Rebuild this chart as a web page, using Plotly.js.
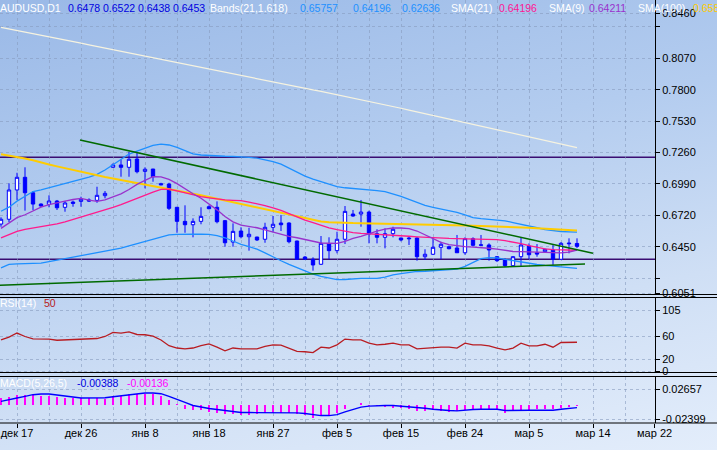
<!DOCTYPE html>
<html><head><meta charset="utf-8">
<script src="https://cdn.plot.ly/plotly-3.0.1.min.js"></script>
<style>
html,body{margin:0;padding:0;background:#dfe9f8;}
#chart{width:717px;height:450px;background:linear-gradient(168deg,#9ab9e7 0%,#b3ccef 38%,#cfdff5 70%,#e3edfb 100%);}
</style></head><body><div id="chart"></div>
<script>
// ---------- data ----------
const openP  = [0.6645,0.6686,0.6938,0.7047,0.6914,0.6817,0.6815,0.6843,0.6789,0.6834,0.6840,0.6852,0.6849,0.6889,0.7133,0.7153,0.7133,0.7204,0.7098,0.7118,0.6992,0.6989,0.6789,0.6668,0.6639,0.6668,0.6794,0.6789,0.6674,0.6490,0.6585,0.6536,0.6533,0.6514,0.6617,0.6654,0.6654,0.6499,0.6361,0.6342,0.6299,0.6473,0.6416,0.6514,0.6731,0.6731,0.6748,0.6562,0.6531,0.6562,0.6525,0.6525,0.6525,0.6364,0.6385,0.6445,0.6450,0.6439,0.6398,0.6519,0.6466,0.6465,0.6364,0.6336,0.6287,0.6364,0.6456,0.6398,0.6407,0.6422,0.6342,0.6482,0.6478];
const highP  = [0.6703,0.6995,0.7086,0.7133,0.6929,0.6823,0.6892,0.6852,0.6843,0.6846,0.6880,0.6866,0.6966,0.6929,0.7167,0.7202,0.7267,0.7267,0.7133,0.7120,0.7000,0.7000,0.6792,0.6806,0.6694,0.6789,0.6806,0.6840,0.6680,0.6651,0.6617,0.6613,0.6536,0.6656,0.6714,0.6723,0.6660,0.6502,0.6370,0.6359,0.6542,0.6531,0.6579,0.6800,0.6766,0.6852,0.6760,0.6600,0.6608,0.6622,0.6528,0.6542,0.6531,0.6428,0.6522,0.6493,0.6459,0.6551,0.6531,0.6531,0.6551,0.6479,0.6370,0.6350,0.6370,0.6528,0.6479,0.6473,0.6433,0.6465,0.6490,0.6522,0.6522];
const lowP   = [0.6622,0.6662,0.6852,0.6760,0.6766,0.6794,0.6789,0.6766,0.6751,0.6794,0.6794,0.6837,0.6828,0.6866,0.7130,0.7052,0.7052,0.7081,0.6952,0.7009,0.6978,0.6766,0.6570,0.6570,0.6531,0.6643,0.6772,0.6651,0.6450,0.6450,0.6522,0.6416,0.6499,0.6484,0.6574,0.6585,0.6479,0.6336,0.6336,0.6244,0.6293,0.6342,0.6393,0.6473,0.6708,0.6622,0.6479,0.6479,0.6436,0.6531,0.6496,0.6465,0.6330,0.6336,0.6379,0.6342,0.6427,0.6398,0.6381,0.6450,0.6459,0.6330,0.6318,0.6275,0.6284,0.6284,0.6342,0.6364,0.6402,0.6293,0.6342,0.6393,0.6438];
const closeP = [0.6686,0.6938,0.7047,0.6914,0.6817,0.6800,0.6843,0.6785,0.6826,0.6823,0.6858,0.6843,0.6892,0.6909,0.7153,0.7133,0.7202,0.7095,0.7116,0.7052,0.6983,0.6780,0.6668,0.6639,0.6668,0.6711,0.6777,0.6665,0.6484,0.6582,0.6536,0.6557,0.6508,0.6617,0.6643,0.6639,0.6493,0.6342,0.6344,0.6293,0.6479,0.6416,0.6514,0.6754,0.6714,0.6748,0.6559,0.6531,0.6562,0.6600,0.6508,0.6519,0.6364,0.6385,0.6445,0.6471,0.6433,0.6398,0.6519,0.6462,0.6463,0.6422,0.6330,0.6287,0.6364,0.6465,0.6381,0.6387,0.6428,0.6342,0.6479,0.6476,0.6453];

const bandUpper = [0.6755,0.6790,0.6842,0.6886,0.6925,0.6939,0.6957,0.6975,0.6991,0.7008,0.7026,0.7049,0.7073,0.7110,0.7155,0.7202,0.7247,0.7273,0.7299,0.7321,0.7333,0.7325,0.7305,0.7275,0.7248,0.7239,0.7234,0.7232,0.7228,0.7226,0.7224,0.7218,0.7212,0.7200,0.7182,0.7161,0.7126,0.7089,0.7057,0.7031,0.7008,0.6987,0.6967,0.6957,0.6952,0.6947,0.6940,0.6932,0.6923,0.6905,0.6883,0.6858,0.6831,0.6805,0.6789,0.6775,0.6760,0.6745,0.6724,0.6701,0.6692,0.6687,0.6683,0.6673,0.6658,0.6641,0.6624,0.6613,0.6597,0.6588,0.6581,0.6578,0.65757];
const bandLower = [0.6268,0.6298,0.6302,0.6304,0.6306,0.6309,0.6321,0.6334,0.6347,0.6363,0.6373,0.6386,0.6399,0.6412,0.6425,0.6438,0.6458,0.6478,0.6498,0.6518,0.6537,0.6552,0.6556,0.6559,0.6558,0.6557,0.6556,0.6545,0.6527,0.6499,0.6471,0.6450,0.6429,0.6397,0.6361,0.6329,0.6298,0.6269,0.6241,0.6214,0.6194,0.6179,0.6167,0.6168,0.6174,0.6178,0.6178,0.6178,0.6189,0.6207,0.6218,0.6229,0.6237,0.6239,0.6243,0.6245,0.6248,0.6258,0.6281,0.6318,0.6348,0.6356,0.6354,0.6342,0.6330,0.6318,0.6305,0.6297,0.6289,0.6284,0.6278,0.6271,0.62636];
const sma21 = [0.6526,0.6555,0.6581,0.6599,0.6610,0.6621,0.6634,0.6647,0.6664,0.6684,0.6704,0.6723,0.6743,0.6766,0.6789,0.6812,0.6840,0.6867,0.6894,0.6920,0.6943,0.6946,0.6930,0.6913,0.6896,0.6881,0.6871,0.6859,0.6853,0.6849,0.6846,0.6834,0.6822,0.6804,0.6784,0.6763,0.6735,0.6705,0.6678,0.6657,0.6635,0.6612,0.6597,0.6582,0.6572,0.6564,0.6561,0.6557,0.6553,0.6550,0.6545,0.6540,0.6535,0.6530,0.6525,0.6522,0.6521,0.6519,0.6517,0.6515,0.6514,0.6512,0.6511,0.6502,0.6490,0.6477,0.6459,0.6444,0.6432,0.6425,0.6422,0.6421,0.64196];
const sma9 = [0.6608,0.6651,0.6700,0.6725,0.6757,0.6791,0.6813,0.6831,0.6843,0.6856,0.6865,0.6850,0.6840,0.6852,0.6877,0.6905,0.6942,0.6986,0.7021,0.7052,0.7050,0.7029,0.6993,0.6948,0.6905,0.6867,0.6820,0.6767,0.6709,0.6664,0.6635,0.6624,0.6613,0.6594,0.6574,0.6553,0.6539,0.6527,0.6514,0.6495,0.6482,0.6480,0.6479,0.6496,0.6521,0.6539,0.6563,0.6585,0.6602,0.6611,0.6611,0.6606,0.6585,0.6553,0.6525,0.6488,0.6468,0.6458,0.6450,0.6447,0.6444,0.6437,0.6430,0.6420,0.6409,0.6408,0.6407,0.6406,0.6404,0.6402,0.6397,0.6404,0.64211];
const sma100 = [0.7245,0.7234,0.7223,0.7209,0.7193,0.7178,0.7157,0.7141,0.7125,0.7108,0.7092,0.7078,0.7063,0.7049,0.7036,0.7023,0.7012,0.7000,0.6988,0.6976,0.6964,0.6951,0.6937,0.6921,0.6908,0.6893,0.6878,0.6863,0.6847,0.6832,0.6816,0.6801,0.6786,0.6771,0.6756,0.6741,0.6723,0.6708,0.6691,0.6677,0.6667,0.6661,0.6657,0.6655,0.6653,0.6652,0.6650,0.6650,0.6648,0.6646,0.6645,0.6643,0.6640,0.6638,0.6637,0.6636,0.6635,0.6634,0.6632,0.6631,0.6629,0.6627,0.6625,0.6623,0.6619,0.6616,0.6613,0.6608,0.6605,0.6601,0.6597,0.6594,0.6589];
const longLine = [0.8337,0.8324,0.8310,0.8297,0.8283,0.8269,0.8256,0.8242,0.8228,0.8215,0.8201,0.8186,0.8172,0.8158,0.8145,0.8131,0.8117,0.8104,0.8090,0.8076,0.8062,0.8048,0.8034,0.8021,0.8007,0.7993,0.7979,0.7965,0.7951,0.7938,0.7924,0.7910,0.7896,0.7882,0.7868,0.7855,0.7841,0.7827,0.7813,0.7799,0.7786,0.7772,0.7758,0.7744,0.7730,0.7716,0.7702,0.7688,0.7671,0.7656,0.7641,0.7625,0.7610,0.7594,0.7579,0.7563,0.7548,0.7533,0.7517,0.7502,0.7487,0.7471,0.7456,0.7441,0.7426,0.7410,0.7395,0.7380,0.7364,0.7349,0.7333,0.7318,0.7303];

const trendUpperBars = [9.875, 74];
const trendUpperPrice = [0.7368, 0.6393];
const trendLowerBars = [-0.125, 73];
const trendLowerPrice = [0.6118, 0.6301];
const levelPrices = [0.7219, 0.6342];

const rsi14 = [54,59,66,60,56,55.5,55.5,53.5,54,55.5,55.5,55.5,56.5,60,67,66,68,63.5,63,60.5,54,44,40,38.5,40,44,47,41.5,35,40,38.5,38.5,38.5,43,45.5,45,40,34,33.5,32,41.5,40,45.5,55.5,54,54,48.5,45.5,46.5,48.5,45.5,45.5,38.5,39.7,41.4,41.4,41.4,39.7,48.5,45.5,45.5,43.8,39.7,36.8,39.7,48.5,43.8,43.8,46.5,41.4,49.6,50.2,50];
const macdMain = [0.0066,0.0100,0.0123,0.0151,0.0180,0.0191,0.0191,0.0174,0.0151,0.0140,0.0123,0.0123,0.0123,0.0128,0.0146,0.0163,0.0186,0.0203,0.0208,0.0208,0.0197,0.0151,0.0094,0.0049,-0.0003,-0.0031,-0.0054,-0.0071,-0.0089,-0.0111,-0.0123,-0.0123,-0.0123,-0.0128,-0.0134,-0.0128,-0.0123,-0.0128,-0.0140,-0.0163,-0.0174,-0.0174,-0.0157,-0.0111,-0.0066,-0.0031,-0.0014,-0.0003,-0.0003,-0.0003,-0.0014,-0.0026,-0.0031,-0.0049,-0.0066,-0.0083,-0.0089,-0.0094,-0.0077,-0.0071,-0.0066,-0.0066,-0.0066,-0.0089,-0.0083,-0.0083,-0.0083,-0.0083,-0.0083,-0.0083,-0.0066,-0.0049,-0.00388];
const macdHist = [0.0123,0.0140,0.0174,0.0180,0.0180,0.0163,0.0151,0.0140,0.0123,0.0123,0.0123,0.0123,0.0123,0.0106,0.0163,0.0163,0.0197,0.0197,0.0197,0.0197,0.0151,0.0094,0.0020,-0.0066,-0.0077,-0.0077,-0.0106,-0.0123,-0.0146,-0.0146,-0.0163,-0.0163,-0.0146,-0.0134,-0.0134,-0.0123,-0.0123,-0.0146,-0.0163,-0.0220,-0.0180,-0.0163,-0.0134,-0.0060,0.0010,0.0037,-0.0010,-0.0020,-0.0030,-0.0040,-0.0050,-0.0055,-0.0089,-0.0094,-0.0077,-0.0089,-0.0106,-0.0089,-0.0077,-0.0066,-0.0060,-0.0060,-0.0066,-0.0123,-0.0077,-0.0077,-0.0077,-0.0060,-0.0060,-0.0066,-0.0049,-0.0031,-0.00136];

const dateLabels = ['дек 17','дек 26','янв 8','янв 18','янв 27','фев 5','фев 15','фев 24','мар 5','мар 14','мар 22'];
const dateLabelBars = [2,10,18,26,34,42,50,58,66,74,81.7];
const gridBars = [6,14,22,30,38,46,54,62,70,78];
const priceTicks = [0.8460,0.8340,0.8070,0.7800,0.7530,0.7260,0.6990,0.6720,0.6450,0.6180,0.6051];
const priceTickText = ['0.8460','','0.8070','0.7800','0.7530','0.7260','0.6990','0.6720','0.6450','','0.6051'];
const rsiTicks = [105,60,20,0];
const macdTicks = [0.02657,-0.02399];

// ---------- chart ----------
const bars = closeP.map((_, i) => i);
const FONT = 'Liberation Sans, Arial, sans-serif';
const grid = {showgrid:true, gridcolor:'rgba(135,155,190,0.6)', gridwidth:1, griddash:'3px,3px'};
const xCommon = {range:[-0.125,81.75], tickmode:'array', tickvals:dateLabelBars, ticktext:dateLabels,
  ...grid, zeroline:false, showline:false, rangeslider:{visible:false},
  minor:{tickmode:'array', tickvals:gridBars, ticks:'', ...grid}};
const yCommon = {side:'right', ticks:'outside', ticklen:4, tickcolor:'#000', tickwidth:1,
  showline:true, linecolor:'#000', linewidth:1, zeroline:false, ...grid,
  tickfont:{family:FONT, size:11, color:'#000'}};

const line = (y, color, width) => ({type:'scatter', mode:'lines', x:bars, y:y, xaxis:'x', yaxis:'y',
  line:{color:color, width:width}, hoverinfo:'skip'});

const traces = [
  {type:'candlestick', x:bars, open:openP, high:highP, low:lowP, close:closeP, xaxis:'x', yaxis:'y',
   increasing:{line:{color:'#0000ff', width:1}, fillcolor:'#ffffff'},
   decreasing:{line:{color:'#0000ff', width:1}, fillcolor:'#0000ff'}, whiskerwidth:0, hoverinfo:'skip'},
  line(longLine, '#f6f3e0', 1.2),
  line(bandUpper, '#1e90ff', 1.3),
  line(bandLower, '#1e90ff', 1.3),
  line(sma100, '#ffcc00', 2),
  line(sma21, '#ff1a8c', 1.3),
  line(sma9, '#9932cc', 1.3),
  {type:'scatter', mode:'lines', x:trendUpperBars, y:trendUpperPrice, xaxis:'x', yaxis:'y', line:{color:'#006a00', width:1.5}, hoverinfo:'skip'},
  {type:'scatter', mode:'lines', x:trendLowerBars, y:trendLowerPrice, xaxis:'x', yaxis:'y', line:{color:'#006a00', width:1.5}, hoverinfo:'skip'},
  {type:'scatter', mode:'lines', x:bars, y:rsi14, xaxis:'x2', yaxis:'y2', line:{color:'#b81c22', width:1.3}, hoverinfo:'skip'},
  {type:'bar', x:bars, y:macdHist, xaxis:'x3', yaxis:'y3', width:0.16, marker:{color:'#ff00ff', line:{width:0}}, hoverinfo:'skip'},
  {type:'scatter', mode:'lines', x:bars, y:macdMain, xaxis:'x3', yaxis:'y3', line:{color:'#0000ff', width:1.4}, hoverinfo:'skip'}
];

const H = 423; // plot-area height in px
const py = p => (H - p) / H;
const W = 655;
const sep = (p) => ({type:'line', xref:'paper', yref:'paper', x0:0, x1:717/W, y0:py(p), y1:py(p), line:{color:'#000', width:1}, layer:'above'});
const shapes = [sep(294.5), sep(297.5), sep(372.5), sep(376.5), sep(423)];
levelPrices.forEach(v => shapes.push({type:'line', xref:'x domain', yref:'y', x0:0, x1:1, y0:v, y1:v,
  line:{color:'#3a0d72', width:1.6}, layer:'below'}));

const ann = (txt, color, x, y, size) => ({text:txt, x:x / W, y:py(y), xref:'paper', yref:'paper',
  xanchor:'left', yanchor:'middle', showarrow:false, borderpad:0,
  font:{family:FONT, size:size || 10.5, color:color}});
const WHITE = '#ffffff', DB = '#0000e0', LB = '#1e90ff';
const annotations = [
  ann('AUDUSD,D1', WHITE, -1, 8), ann('0.6478', DB, 67, 8), ann('0.6522', DB, 102, 8), ann('0.6438', DB, 137, 8), ann('0.6453', DB, 172, 8),
  ann('Bands(21,1.618)', WHITE, 209, 8), ann('0.65757', LB, 299, 8), ann('0.64196', LB, 352, 8), ann('0.62636', LB, 401, 8),
  ann('SMA(21)', WHITE, 450, 8), ann('0.64196', '#ff1493', 498, 8), ann('SMA(9)', WHITE, 548, 8), ann('0.64211', '#9932cc', 588, 8),
  ann('SMA(100)', WHITE, 637, 8), ann('0.65887', '#ffcc00', 692, 8),
  ann('RSI(14)', WHITE, -1, 303), ann('50', '#b81c22', 43, 303),
  ann('MACD(5,26,5)', WHITE, -1, 382.5), ann('-0.00388', '#0000e0', 76, 382.5), ann('-0.00136', '#ff00ff', 126, 382.5)
];

const layout = {
  width:717, height:450, margin:{l:0, r:62, t:0, b:27, pad:0},
  paper_bgcolor:'rgba(0,0,0,0)', plot_bgcolor:'rgba(0,0,0,0)',
  showlegend:false, hovermode:false, boxgap:0.4, bargap:0,
  xaxis:{...xCommon, anchor:'y', showticklabels:false, ticks:''},
  xaxis2:{...xCommon, anchor:'y2', matches:'x', showticklabels:false, ticks:''},
  xaxis3:{...xCommon, anchor:'y3', matches:'x', ticks:'outside', ticklen:4, tickcolor:'#000', ticklabelstandoff:-4,
          tickfont:{family:FONT, size:11, color:'#000'}},
  yaxis:{...yCommon, domain:[py(294.5), 1], range:[0.6039, 0.8572], anchor:'x', tickmode:'array', tickvals:priceTicks, ticktext:priceTickText},
  yaxis2:{...yCommon, domain:[py(372.5), py(297.5)], range:[-2.6, 127.8], anchor:'x2', tickmode:'array', tickvals:rsiTicks, ticktext:rsiTicks.map(String)},
  yaxis3:{...yCommon, domain:[0, py(376.5)], range:[-0.0300, 0.04885], anchor:'x3', tickmode:'array', tickvals:macdTicks, ticktext:macdTicks.map(v => v.toFixed(5))},
  shapes:shapes, annotations:annotations
};

Plotly.newPlot('chart', traces, layout, {displayModeBar:false, staticPlot:true});
</script></body></html>
